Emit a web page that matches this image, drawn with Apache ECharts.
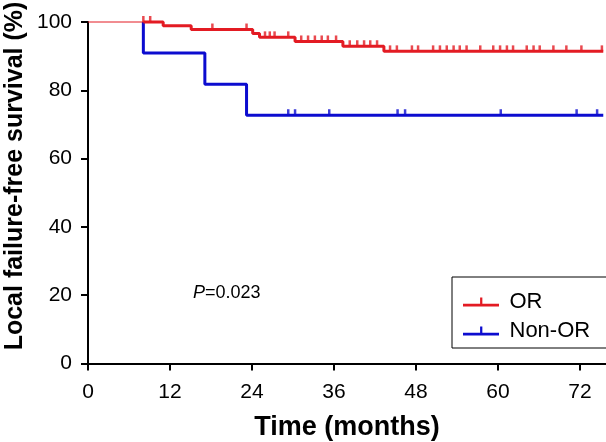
<!DOCTYPE html>
<html>
<head>
<meta charset="utf-8">
<script src="https://cdn.jsdelivr.net/npm/echarts@6/dist/echarts.min.js"></script>
<style>
html,body{margin:0;padding:0;background:#fff;}
#chart{width:606px;height:442px;}
</style>
</head>
<body>
<div id="chart"></div>
<script>
// ---- Data ----
const xTicks = [0, 12, 24, 36, 48, 60, 72];
const yTicks = [0, 20, 40, 60, 80, 100];
const followUpEnd = 75.4;

// OR group: event times (months) and survival (%) after each event
const orEventTimes = [11.0, 15.1, 24.1, 25.1, 30.3, 37.3, 43.3];
const orSurvival   = [98.9, 97.8, 96.6, 95.5, 94.3, 92.9, 91.4];
const orCensorTimes = [8.1, 9.1, 18.2, 23.2, 25.9, 26.6, 27.3, 29.3, 31.2, 32.2, 33.2, 34.2, 35.1, 36.3,
  38.3, 39.4, 40.4, 41.3, 42.3, 44.2, 45.2, 47.4, 48.3, 50.5, 51.5, 52.5, 53.5, 54.4, 55.4, 57.4,
  59.3, 60.3, 61.3, 62.2, 64.2, 65.2, 66.1, 68.1, 70.0, 72.2, 75.2];

// Non-OR group
const nonOrEventTimes = [8.1, 17.1, 23.2];
const nonOrSurvival   = [90.9, 81.8, 72.7];
const nonOrCensorTimes = [29.3, 30.3, 35.3, 45.3, 46.4, 60.4, 71.5, 74.5];

const pValueText = '=0.023';
const legendNames = ['OR', 'Non-OR'];

// ---- Build series from the data ----
function stepData(startT, times, surv, endT) {
  const d = [[startT, 100]];
  for (let i = 0; i < times.length; i++) d.push([times[i], surv[i]]);
  d.push([endT, surv[surv.length - 1]]);
  return d;
}
function survAt(t, times, surv) {
  let s = 100;
  for (let i = 0; i < times.length; i++) if (times[i] <= t) s = surv[i];
  return s;
}
const startThick = nonOrEventTimes[0];
const orLine = stepData(startThick, orEventTimes, orSurvival, followUpEnd);
const nonOrLine = stepData(startThick, nonOrEventTimes, nonOrSurvival, followUpEnd);
const sharedStart = [[0, 100], [startThick, 100]];
const orCensor = orCensorTimes.map(t => [t, survAt(t, orEventTimes, orSurvival)]);
const nonOrCensor = nonOrCensorTimes.map(t => [t, survAt(t, nonOrEventTimes, nonOrSurvival)]);

const RED = '#e31b23';
const BLUE = '#0c0ccf';
const FONT = '"Liberation Sans", Arial, Helvetica, sans-serif';
const legendIcon = 'path://M0,7 L40,7 L40,10 L0,10 Z M19,0 L21.5,0 L21.5,8 L19,8 Z';

const chart = echarts.init(document.getElementById('chart'), null, {renderer: 'canvas'});
chart.setOption({
  animation: false,
  backgroundColor: '#fff',
  textStyle: {fontFamily: FONT},
  grid: {left: 88, right: 0, top: 22, bottom: 78.5, containLabel: false, outerBoundsMode: 'none'},
  xAxis: {
    type: 'value', min: 0, max: 75.8, interval: 12,
    name: 'Time (months)', nameLocation: 'middle', nameGap: 51,
    nameTextStyle: {fontFamily: FONT, fontSize: 27, fontWeight: 'bold', color: '#000'},
    axisLine: {show: true, onZero: false, lineStyle: {color: '#000', width: 2}},
    axisTick: {show: true, length: 7, lineStyle: {color: '#000', width: 2}, customValues: xTicks},
    axisLabel: {fontFamily: FONT, fontSize: 21, color: '#000', margin: 18, customValues: xTicks},
    splitLine: {show: false}
  },
  yAxis: {
    type: 'value', min: 0, max: 100, interval: 20,
    axisLine: {show: true, lineStyle: {color: '#000', width: 2}},
    axisTick: {show: true, length: 7, lineStyle: {color: '#000', width: 2}, customValues: yTicks},
    axisLabel: {fontFamily: FONT, fontSize: 21, color: '#000', margin: 16, customValues: yTicks},
    splitLine: {show: false}
  },
  legend: {
    orient: 'vertical', left: 452, top: 277,
    data: [{name: legendNames[0], icon: legendIcon}, {name: legendNames[1], icon: legendIcon}],
    itemWidth: 37, itemHeight: 9, itemGap: 7,
    padding: [14, 24, 6, 11],
    borderColor: '#000', borderWidth: 1, borderRadius: 0,
    textStyle: {fontFamily: FONT, fontSize: 22, color: '#000', padding: [0, 0, 0, 5]},
    selectedMode: false
  },
  graphic: [
    {
      type: 'text', x: 15, y: 176, rotation: Math.PI / 2,
      style: {text: 'Local failure-free survival (%)', font: 'bold 25px ' + FONT, fill: '#000',
        textAlign: 'center', textVerticalAlign: 'middle'}
    },
    {
      type: 'text', x: 193, y: 293,
      style: {
        text: '{i|P}{n|' + pValueText + '}',
        rich: {
          i: {font: 'italic 18px ' + FONT, fill: '#000'},
          n: {font: '18px ' + FONT, fill: '#000'}
        },
        textVerticalAlign: 'middle'
      }
    }
  ],
  series: [
    {type: 'line', name: 'shared', data: sharedStart, showSymbol: false, clip: false,
      lineStyle: {color: RED, width: 1}, z: 3},
    {type: 'line', name: 'Non-OR', data: nonOrLine, step: 'end', showSymbol: false, clip: false,
      color: BLUE, lineStyle: {color: BLUE, width: 3}, z: 2},
    {type: 'line', name: 'OR', data: orLine, step: 'end', showSymbol: false, clip: false,
      color: RED, lineStyle: {color: RED, width: 3}, z: 4},
    {type: 'scatter', name: 'Non-OR censored', data: nonOrCensor, symbol: 'rect',
      symbolSize: [2.5, 6], symbolOffset: [0, -3], itemStyle: {color: BLUE}, z: 2, clip: false},
    {type: 'scatter', name: 'OR censored', data: orCensor, symbol: 'rect',
      symbolSize: [2.5, 6], symbolOffset: [0, -3], itemStyle: {color: RED}, z: 4, clip: false}
  ]
});
</script>
</body>
</html>
